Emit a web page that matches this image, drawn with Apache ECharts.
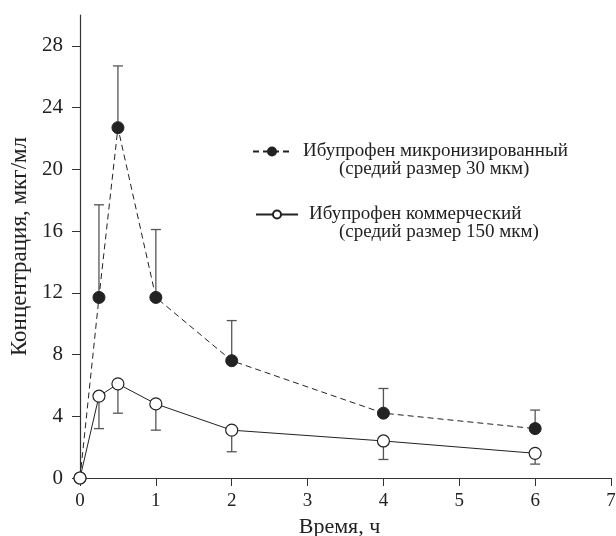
<!DOCTYPE html>
<html>
<head>
<meta charset="utf-8">
<script src="https://cdn.jsdelivr.net/npm/echarts@6/dist/echarts.min.js"></script>
<style>
  html, body { margin: 0; padding: 0; background: #fff; }
  #chart { width: 616px; height: 536px; }
</style>
</head>
<body>
<div id="chart"></div>
<script>
// время, ч
var times = [0, 0.25, 0.5, 1, 2, 4, 6];
// ибупрофен микронизированный: среднее и верхняя граница ошибки
var microMean = [0, 11.7, 22.7, 11.7, 7.6, 4.2, 3.2];
var microUpper = [null, 17.7, 26.7, 16.1, 10.2, 5.8, 4.4];
// ибупрофен коммерческий: среднее и нижняя граница ошибки
var commMean = [0, 5.3, 6.1, 4.8, 3.1, 2.4, 1.6];
var commLower = [null, 3.2, 4.2, 3.1, 1.7, 1.2, 0.9];

var yTicks = [0, 4, 8, 12, 16, 20, 24, 28];

var microName = 'Ибупрофен микронизированный';
var commName = 'Ибупрофен коммерческий';
var microSub = '(средий размер 30 мкм)';
var commSub = '(средий размер 150 мкм)';

function pairs(xs, ys) {
	var out = [];
	for (var i = 0; i < xs.length; i++) {
		if (ys[i] != null) out.push([xs[i], ys[i]]);
	}
	return out;
}

function errData(xs, mean, bound) {
	var out = [];
	for (var i = 0; i < xs.length; i++) {
		if (bound[i] != null) out.push([xs[i], mean[i], bound[i]]);
	}
	return out;
}

// усы погрешности
function renderErr(params, api) {
	var p1 = api.coord([api.value(0), api.value(1)]);
	var p2 = api.coord([api.value(0), api.value(2)]);
	var half = 5;
	var st = { stroke: '#555', lineWidth: 1.3 };
	return {
		type: 'group',
		children: [
			{ type: 'line', shape: { x1: p1[0], y1: p1[1], x2: p2[0], y2: p2[1] }, style: st },
			{ type: 'line', shape: { x1: p2[0] - half, y1: p2[1], x2: p2[0] + half, y2: p2[1] }, style: st }
		]
	};
}

var font = 'Liberation Serif';
var myChart = echarts.init(document.getElementById('chart'));
var option = {
	animation: false,
	backgroundColor: '#fff',
	grid: { left: 80, right: 5, top: 15, bottom: 58, outerBoundsMode: 'none' },
	legend: [{
		left: 247, top: 137,
		itemWidth: 38, itemHeight: 10,
		data: [microName],
		textStyle: { fontFamily: font, fontSize: 19, color: '#222', padding: [0, 0, 0, 7] }
	}, {
		left: 250, top: 200,
		itemWidth: 42, itemHeight: 10,
		data: [commName],
		textStyle: { fontFamily: font, fontSize: 19, color: '#222', padding: [0, 0, 0, 6] }
	}],
	graphic: [
		{ type: 'text', left: 339, top: 160, style: { text: microSub, font: '19px "Liberation Serif"', fill: '#222' } },
		{ type: 'text', left: 339, top: 223, style: { text: commSub, font: '19px "Liberation Serif"', fill: '#222' } }
	],
	xAxis: {
		type: 'value',
		min: 0, max: 7, interval: 1,
		name: 'Время, ч',
		nameLocation: 'middle',
		nameGap: 38,
		nameTextStyle: { fontFamily: font, fontSize: 22, color: '#222', padding: [0, 12, 0, 0] },
		axisLine: { lineStyle: { color: '#333', width: 1.2 } },
		axisTick: { length: 8, lineStyle: { color: '#333' } },
		axisLabel: { fontFamily: font, fontSize: 19, color: '#222', margin: 14 },
		splitLine: { show: false }
	},
	yAxis: {
		type: 'value',
		min: 0, max: 30,
		name: 'Концентрация, мкг/мл',
		nameLocation: 'middle',
		nameGap: 46,
		nameTextStyle: { fontFamily: font, fontSize: 23, color: '#222' },
		axisLine: { show: true, lineStyle: { color: '#333', width: 1.2 } },
		axisTick: { show: true, length: 8, customValues: yTicks, lineStyle: { color: '#333' } },
		axisLabel: { fontFamily: font, fontSize: 21, color: '#222', margin: 17, customValues: yTicks },
		splitLine: { show: false }
	},
	series: [{
		type: 'custom',
		renderItem: renderErr,
		data: errData(times, microMean, microUpper),
		z: 1,
		silent: true
	}, {
		type: 'custom',
		renderItem: renderErr,
		data: errData(times, commMean, commLower),
		z: 1,
		silent: true
	}, {
		name: microName,
		type: 'line',
		data: pairs(times, microMean),
		symbol: 'circle',
		symbolSize: 12,
		lineStyle: { color: '#222', width: 1, type: [6, 4] },
		itemStyle: { color: '#222', borderColor: '#222', borderWidth: 1 },
		z: 3
	}, {
		name: commName,
		type: 'line',
		data: pairs(times, commMean),
		symbol: 'circle',
		symbolSize: 12,
		lineStyle: { color: '#222', width: 1 },
		itemStyle: { color: '#fff', borderColor: '#222', borderWidth: 1.2 },
		z: 4
	}]
};
myChart.setOption(option);
</script>
</body>
</html>
